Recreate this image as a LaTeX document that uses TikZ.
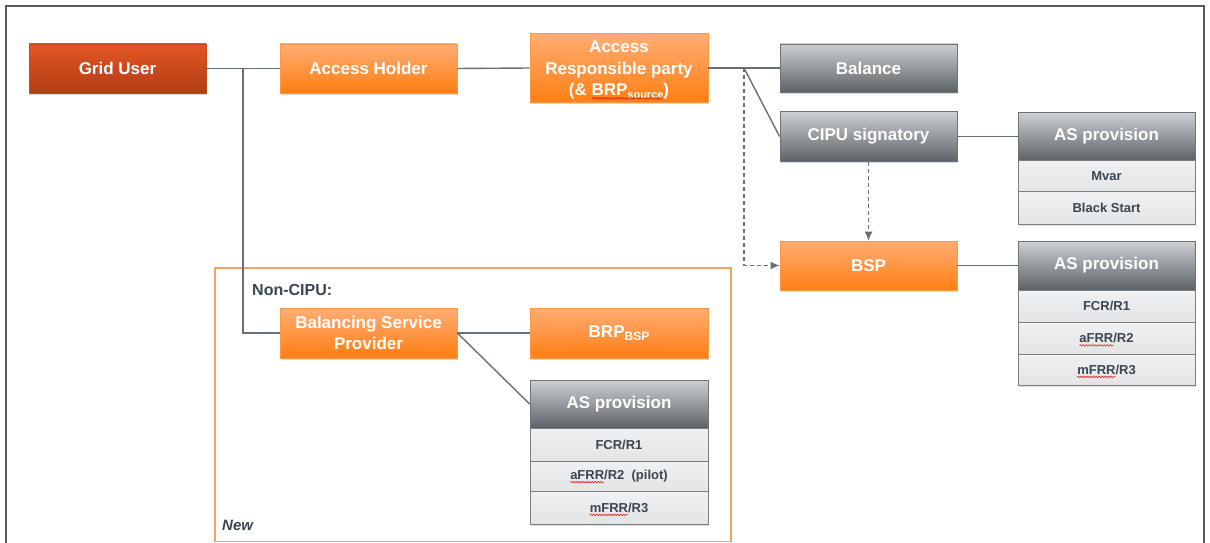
\documentclass[tikz,border=0pt]{standalone}
\usepackage{fontspec}
\setmainfont{Liberation Sans}
\usetikzlibrary{shadows,arrows.meta,decorations.pathmorphing}
\definecolor{orTop}{HTML}{FFAD75}
\definecolor{orBot}{HTML}{FF7E12}
\definecolor{orLine}{HTML}{F79A45}
\definecolor{rdTop}{HTML}{E45623}
\definecolor{rdBot}{HTML}{B13D16}
\definecolor{rdLine}{HTML}{C24A1E}
\definecolor{gyTop}{HTML}{CDD0D3}
\definecolor{gyBot}{HTML}{5B6267}
\definecolor{gyLine}{HTML}{6D7479}
\definecolor{rwTop}{HTML}{F0F1F2}
\definecolor{rwBot}{HTML}{E2E4E6}
\definecolor{rwLine}{HTML}{7A7F84}
\definecolor{txtDark}{HTML}{3A4652}
\definecolor{lnk}{HTML}{66707A}
\definecolor{frameGray}{HTML}{5A5A5A}
\definecolor{frameOr}{HTML}{F4A263}
\definecolor{waveRed}{HTML}{E0201A}
\newlength\wavewd
\newcommand\redwave[1]{\settowidth\wavewd{#1}\rlap{#1}\tikz[baseline=0pt,x=1pt,y=1pt]{\path[use as bounding box] (0,0) rectangle (\wavewd,1);\draw[waveRed, line width=0.6pt, decorate, decoration={snake, amplitude=0.8pt, segment length=3pt}] (0,-2.8) -- (\wavewd,-2.8);}}
\tikzset{
  boxtext/.style={inner sep=0pt, text=white, align=center,
    font=\bfseries\fontsize{17}{21.5}\selectfont},
  box/.style={boxtext, minimum width=177pt,
    drop shadow={shadow xshift=1.2pt, shadow yshift=-1.8pt, opacity=0.3}},
  orangebox/.style={box, top color=orTop, bottom color=orBot, draw=orLine, line width=0.8pt},
  redbox/.style={box, top color=rdTop, bottom color=rdBot, draw=rdLine, line width=0.8pt},
  graybox/.style={box, top color=gyTop, bottom color=gyBot, draw=gyLine, line width=0.8pt},
  rowbox/.style={minimum width=177pt, inner sep=0pt, top color=rwTop, bottom color=rwBot,
    draw=rwLine, line width=0.8pt, text=txtDark, font=\bfseries\fontsize{13}{15}\selectfont,
    drop shadow={shadow xshift=1.2pt, shadow yshift=-1.5pt, opacity=0.25}},
  link/.style={draw=lnk, line width=1.4pt},
  dlink/.style={draw=lnk, line width=1.2pt, dash pattern=on 4pt off 3pt, -{Latex[length=9pt,width=8pt]}},
  lbl/.style={text=txtDark, inner sep=0pt, anchor=west}
}
\begin{document}
\begin{tikzpicture}[x=1pt,y=-1pt]
\useasboundingbox (0,0) rectangle (1210,543);
% outer frame
\draw[frameGray, line width=2pt] (6,545) -- (6,6) -- (1204,6) -- (1204,545);
% Non-CIPU frame
\draw[frameOr, line width=1.2pt] (215,268) rectangle (731,541.5);
\node[lbl, font=\bfseries\fontsize{16}{18}\selectfont] (noncipu) at (252,290) {Non-CIPU:};
\node[lbl, font=\bfseries\itshape\fontsize{15}{17}\selectfont] (newlbl) at (222,525) {New};

% top row
\node[redbox, minimum height=49pt] (gu) at (117.5,68.5) {Grid User};
\node[orangebox, minimum height=49pt] (ah) at (368.5,68.5) {Access Holder};
\node[orangebox, minimum width=178pt, minimum height=69pt] (arp) at (619,68) {};
\node[boxtext] (arptxt) at (619,70)
  {Access\\Responsible party\\(\& \redwave{BRP{\fontsize{11}{11}\selectfont\raisebox{-3pt}{source}}})};
\node[graybox, minimum height=48pt] (bal) at (868.5,68) {Balance};
\node[graybox, minimum height=50pt] (cipu) at (868.5,136.5) {CIPU signatory};
\node[orangebox, minimum height=49pt] (bsp) at (868.5,265.5) {BSP};

% AS provision (CIPU)
\node[graybox, minimum height=48pt] (as1) at (1106.5,136.5) {AS provision};
\node[rowbox, minimum height=31pt] (as1a) at (1106.5,176) {Mvar};
\node[rowbox, minimum height=33pt] (as1b) at (1106.5,208) {Black Start};

% AS provision (BSP)
\node[graybox, minimum height=49pt] (as2) at (1106.5,265.5) {AS provision};
\node[rowbox, minimum height=32pt] (as2a) at (1106.5,306) {FCR/R1};
\node[rowbox, minimum height=32pt] (as2b) at (1106.5,338) {\redwave{aFRR}/R2};
\node[rowbox, minimum height=31pt] (as2c) at (1106.5,369.5) {\redwave{mFRR}/R3};

% Non-CIPU part
\node[orangebox, minimum height=50pt] (bspp) at (368.5,333) {Balancing Service\\Provider};
\node[orangebox, minimum width=178pt, minimum height=50pt] (brpbsp) at (619,333)
  {BRP{\fontsize{12}{12}\selectfont\raisebox{-3.5pt}{BSP}}};
\node[graybox, minimum width=178pt, minimum height=48pt] (as3) at (619,404) {AS provision};
\node[rowbox, minimum width=178pt, minimum height=33pt] (as3a) at (619,444.5) {FCR/R1};
\node[rowbox, minimum width=178pt, minimum height=30pt] (as3b) at (619,476) {\redwave{aFRR}/R2\ \ (pilot)};
\node[rowbox, minimum width=178pt, minimum height=33pt] (as3c) at (619,507.5) {\redwave{mFRR}/R3};

% connectors
\coordinate (j1) at (243,68.5);
\coordinate (j2) at (744,68);
\draw[link] (gu.east) -- (ah.west);
\draw[link] (j1) |- (bspp.west);
\draw[link] (ah.east) -- (arp.west);
\draw[link] (arp.east) -- (bal.west);
\draw[link] (j2) -- (cipu.west);
\draw[dlink] (j2) |- (bsp.west);
\draw[dlink] (cipu.south) -- (bsp.north);
\draw[link] (cipu.east) -- (as1.west);
\draw[link] (bsp.east) -- (as2.west);
\draw[link] (bspp.east) -- (brpbsp.west);
\draw[link] (bspp.east) -- (as3.west);
\end{tikzpicture}
\end{document}
